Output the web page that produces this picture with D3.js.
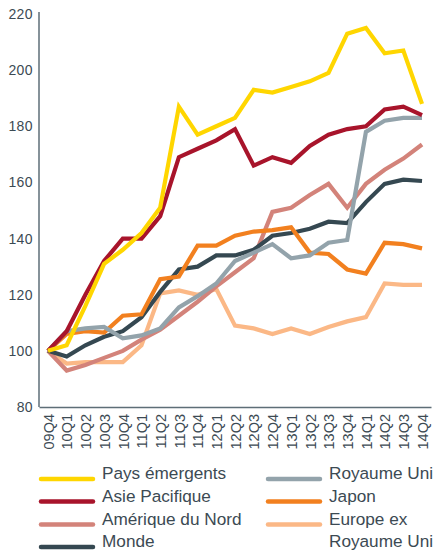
<!DOCTYPE html>
<html>
<head>
<meta charset="utf-8">
<script src="https://cdn.jsdelivr.net/npm/d3@7"></script>
<style>
  body { margin: 0; background: #fff; }
  svg { display: block; font-family: "Liberation Sans", Arial, sans-serif; }
</style>
</head>
<body>
<svg width="435" height="555"></svg>
<script>
// quarters on the x axis
var quarters = ["09Q4","10Q1","10Q2","10Q3","10Q4","11Q1","11Q2","11Q3","11Q4",
  "12Q1","12Q2","12Q3","12Q4","13Q1","13Q2","13Q3","13Q4","14Q1","14Q2","14Q3","14Q4"];

var yTicks = [80, 100, 120, 140, 160, 180, 200, 220];

// index values (base 100 at 09Q4)
var paysEmergents = [100, 102, 116, 131, 136, 142, 151, 187, 177, 180, 183, 193, 192, 194, 196, 199, 213, 215, 206, 207, 188];
var asiePacifique = [100, 107, 120, 132, 140, 140, 148, 169, 172, 175, 179, 166, 169, 167, 173, 177, 179, 180, 186, 187, 184];
var ameriqueNord  = [100, 93, 95, 97.5, 100, 104, 107.5, 112.5, 117.5, 123, 128, 133, 149.5, 151, 155.5, 159.5, 151, 159.5, 164.5, 168.5, 173.5];
var monde         = [100, 98, 102, 105, 107, 112, 121, 129, 130, 134, 134, 136, 141, 142, 143.5, 146, 145.5, 153, 159.5, 161, 160.5];
var royaumeUni    = [100, 107, 108, 108.5, 104.5, 105.5, 108, 115.5, 119.5, 124, 132, 135, 138, 133, 134, 138.5, 139.5, 178, 182, 183, 183];
var japon         = [100, 106, 107, 106.5, 112.5, 113, 125.5, 126.5, 137.5, 137.5, 141, 142.5, 143, 144, 135, 134.5, 129, 127.5, 138.5, 138, 136.5];
var europeEx      = [100, 95.5, 96, 96, 96, 102, 120.5, 121.5, 120, 122, 109, 108, 106, 108, 106, 108.5, 110.5, 112, 124, 123.5, 123.5];

var series = [
  {name: "Europe ex\nRoyaume Uni", values: europeEx, color: "#fbb886"},
  {name: "Amérique du Nord", values: ameriqueNord, color: "#d3837a"},
  {name: "Monde", values: monde, color: "#354851"},
  {name: "Japon", values: japon, color: "#f2801f"},
  {name: "Royaume Uni", values: royaumeUni, color: "#93a3ab"},
  {name: "Asie Pacifique", values: asiePacifique, color: "#a8142b"},
  {name: "Pays émergents", values: paysEmergents, color: "#ffd600"}
];

// legend order (column by column)
var legendOrder = ["Pays émergents", "Asie Pacifique", "Amérique du Nord", "Monde",
  "Royaume Uni", "Japon", "Europe ex\nRoyaume Uni"];

var textColor = "#3c4a53";
var axisColor = "#5e6e77";

var svg = d3.select("svg");

var x = d3.scalePoint()
    .domain(quarters)
    .range([39, 431])
    .padding(0.48);

var y = d3.scaleLinear()
    .domain([80, 220])
    .range([407, 14]);

// y axis
var yAxis = svg.append("g")
    .attr("transform", "translate(39,0)")
    .call(d3.axisLeft(y).tickValues(yTicks).tickSize(0).tickSizeOuter(0).tickPadding(6));
yAxis.select(".domain").attr("stroke", axisColor).attr("stroke-width", 1.5).attr("d", "M0,12V407");
yAxis.selectAll("text")
    .attr("fill", textColor)
    .style("font-size", "14px")
    .style("letter-spacing", "0.4px")
    .style("font-family", "Liberation Sans, Arial, sans-serif");

// x axis
var xAxis = svg.append("g")
    .attr("transform", "translate(0,407)")
    .call(d3.axisBottom(x).tickSize(0).tickSizeOuter(0));
xAxis.select(".domain").attr("stroke", axisColor).attr("stroke-width", 1.5);
xAxis.selectAll("text")
    .attr("fill", textColor)
    .style("font-size", "14.5px")
    .style("font-family", "Liberation Sans, Arial, sans-serif")
    .attr("text-anchor", "end")
    .attr("transform", "rotate(-90)")
    .attr("x", -7)
    .attr("y", 0)
    .attr("dy", "0.36em");

// lines
var line = d3.line()
    .x((d, i) => x(quarters[i]))
    .y(d => y(d));

svg.append("g")
  .selectAll("path")
  .data(series)
  .enter().append("path")
    .attr("fill", "none")
    .attr("stroke", d => d.color)
    .attr("stroke-width", 4.2)
    .attr("stroke-linejoin", "miter")
    .attr("d", d => line(d.values));

// legend
var rowY = [479, 501.5, 524.5, 547];
var legend = svg.append("g")
    .style("font-size", "17.2px")
    .attr("fill", textColor);

legendOrder.forEach(function(name, i) {
  var s = series.find(d => d.name === name);
  var col = Math.floor(i / 4), row = i % 4;
  var x0 = col ? 268 : 41;
  var yy = rowY[row];
  legend.append("line")
      .attr("x1", x0).attr("x2", x0 + 52)
      .attr("y1", yy).attr("y2", yy)
      .attr("stroke", s.color)
      .attr("stroke-width", 4.5)
      .attr("stroke-linecap", "round");
  var t = legend.append("text")
      .attr("x", x0 + 61)
      .attr("y", yy)
      .attr("dy", "0.36em");
  name.split("\n").forEach(function(part, k) {
    t.append("tspan")
        .attr("x", x0 + 61)
        .attr("dy", k ? 22.5 : 0)
        .text(part);
  });
});
</script>
</body>
</html>
